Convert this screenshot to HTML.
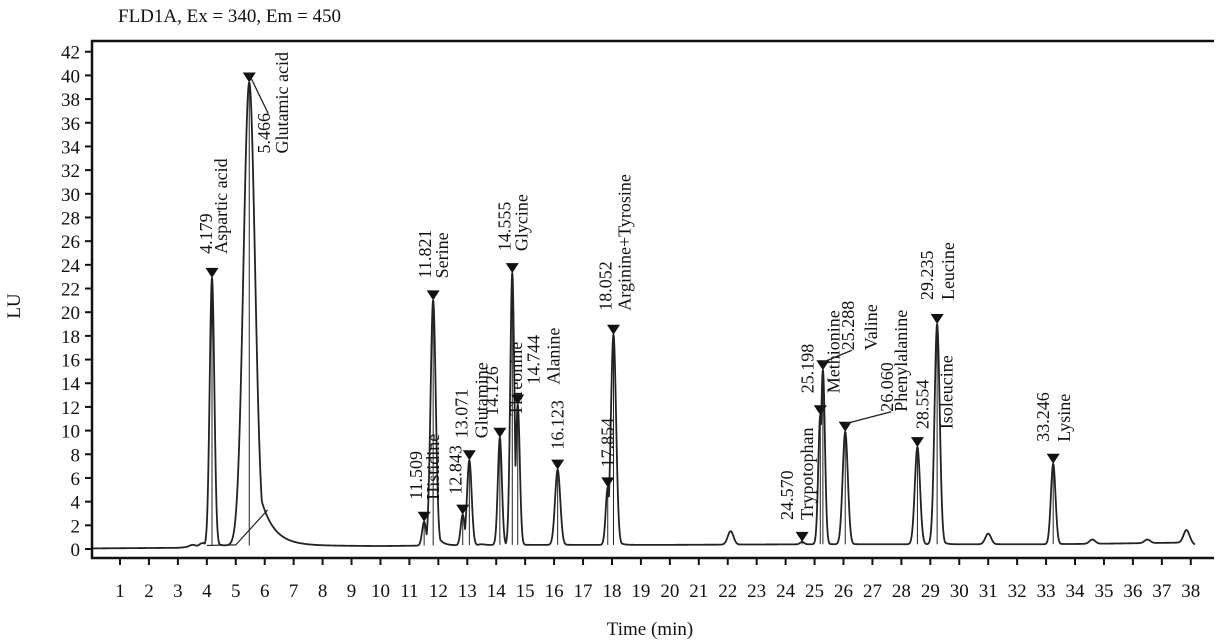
<!DOCTYPE html>
<html><head><meta charset="utf-8">
<style>
html,body{margin:0;padding:0;background:#fff;}
svg{display:block;font-family:"Liberation Serif",serif;}
</style></head>
<body>
<svg id="chart" width="1225" height="644" viewBox="0 0 1225 644" xmlns="http://www.w3.org/2000/svg">
<text x="118" y="22" font-size="19" fill="#111">FLD1A, Ex = 340, Em = 450</text>
<text x="20" y="306" font-size="19" fill="#111" text-anchor="middle" transform="rotate(-90 20 306)">LU</text>
<text x="650" y="635" font-size="19" fill="#111" text-anchor="middle">Time (min)</text>
<g id="axes"></g>
<g id="trace"></g>
<g id="peaks"></g>
</svg>
<script>
// ---- data ----
const peakTimes   = [4.179,5.466,11.509,11.821,12.843,13.071,14.126,14.555,14.744,16.123,17.854,18.052,24.570,25.198,25.288,26.060,28.554,29.235,33.246];
const peakHeights = [22.9,39.4,2.3,21.0,2.9,7.5,9.4,23.3,12.2,6.7,5.2,18.1,0.6,11.3,15.1,9.9,8.6,19.0,7.2];
const peakNames   = ["Aspartic acid","Glutamic acid","Histidine","Serine","","Glutamine","Threonine","Glycine","Alanine","","","Arginine+Tyrosine","Trypotophan","Methionine","Valine","Phenylalanine","Isoleucine","Leucine","Lysine"];
const peakSigma   = [0.08,0.2,0.07,0.09,0.07,0.08,0.07,0.07,0.07,0.09,0.07,0.09,0.07,0.07,0.07,0.09,0.09,0.09,0.08];
const peakTail    = [0.08,0.45,0.05,0.15,0.05,0.08,0.05,0.06,0.06,0.08,0.05,0.1,0.05,0.06,0.06,0.08,0.08,0.1,0.08];
const peakTailAmp = [0.1,0.25,0.1,0.12,0.1,0.1,0.1,0.1,0.1,0.1,0.1,0.12,0.1,0.1,0.1,0.1,0.1,0.12,0.1];
const minorTimes   = [3.5,3.85,13.5,22.1,31.0,34.6,36.5,37.85];
const minorHeights = [0.35,0.5,0.4,1.5,1.3,0.8,0.8,1.6];
const baseTimes  = [0,3.0,4.0,7,10,14,20,25,30,33,35,38,38.2];
const baseValues = [0.05,0.1,0.3,0.3,0.25,0.35,0.35,0.4,0.4,0.4,0.45,0.55,0.3];
const yTicks = [0,2,4,6,8,10,12,14,16,18,20,22,24,26,28,30,32,34,36,38,40,42];
const xTicks = [1,2,3,4,5,6,7,8,9,10,11,12,13,14,15,16,17,18,19,20,21,22,23,24,25,26,27,28,29,30,31,32,33,34,35,36,37,38];
// label layout (styling, pixels)
const labDxT = [-6,15,-8,-8,-7,-8,-8,-8,16,0,0,-8,-15,-13,25,42,5,-10,-10];
const labDxN = [9,33,9,9,0,12,16,9,36,0,0,11,5,13,48,56,29,11,11];
const labDy  = [-14,81,-12,-12,-10,-12,-12,-12,-10,-10,-10,-14,-12,-12,-10,-10,-8,-14,-12];

const NS="http://www.w3.org/2000/svg";
const L=92,T=41,R=1214,B=558;
const xOf=t=>120+(t-1)*28.94;
const yOf=v=>549-v*11.84;
function mk(tag,attrs,parent){const e=document.createElementNS(NS,tag);for(const k in attrs)e.setAttribute(k,attrs[k]);parent.appendChild(e);return e;}
const axes=document.getElementById('axes');
const ax=mk('path',{d:`M${R} ${T}H${L}V${B}H${R}`,fill:'none',stroke:'#111','stroke-width':2.5},axes);


yTicks.forEach(v=>{
  const y=yOf(v);
  const tk=mk('line',{x1:L-7,x2:L,y1:y,y2:y,stroke:'#111','stroke-width':2},axes);
  
  
  const tx=mk('text',{x:L-12,y:y+7,'font-size':19,'text-anchor':'end',fill:'#111'},axes);
  tx.textContent=v;
  
  
});
xTicks.forEach(v=>{
  const x=xOf(v);
  const tk=mk('line',{x1:x,x2:x,y1:B,y2:B+7,stroke:'#111','stroke-width':2},axes);
  
  
  const tx=mk('text',{x:x,y:597,'font-size':19,'text-anchor':'middle',fill:'#111'},axes);
  tx.textContent=v;
  
  
});
function base(t){
  for(let i=0;i<baseTimes.length-1;i++){if(t<=baseTimes[i+1]){const f=(t-baseTimes[i])/(baseTimes[i+1]-baseTimes[i]);return baseValues[i]+f*(baseValues[i+1]-baseValues[i]);}}
  return baseValues[baseValues.length-1];
}
function shape(t,c,h,s,tail,amp){
  const d=t-c;
  const g=Math.exp(-d*d/(2*s*s));
  if(d<=0) return h*g;
  const e=tail>0?amp*Math.exp(-d/tail):0;
  return h*Math.max(g,d>s?e:0);
}
function signal(t){
  let m=0;
  peakTimes.forEach((c,i)=>{m=Math.max(m,shape(t,c,peakHeights[i]-base(c),peakSigma[i],peakTail[i],peakTailAmp[i]));});
  minorTimes.forEach((c,i)=>{m=Math.max(m,shape(t,c,minorHeights[i]-base(c),0.1,0.12,0.15));});
  return base(t)+m;
}
let d='';
for(let t=0.05;t<=38.15;t+=0.005){d+=(d?'L':'M')+xOf(t).toFixed(2)+' '+yOf(signal(t)).toFixed(2);}
const tr=mk('path',{d:d,fill:'none',stroke:'#222','stroke-width':1.8,'stroke-linejoin':'round'},document.getElementById('trace'));


const bl=mk('path',{d:`M${xOf(4.0)} ${yOf(0.3)}L${xOf(5.0)} ${yOf(0.35)}L${xOf(6.1)} ${yOf(3.3)}`,fill:'none',stroke:'#222','stroke-width':1.2},document.getElementById('trace'));


const pg=document.getElementById('peaks');
peakTimes.forEach((t,i)=>{
  const x=xOf(t), y=yOf(peakHeights[i]);
  const g=mk('g',{},pg);
  
  
  const dl=mk('line',{x1:x,x2:x,y1:y,y2:yOf(base(t)),stroke:'#222','stroke-width':1},g);
  
  
  const m=mk('path',{d:`M${x-6.5} ${y-10}H${x+6.5}L${x} ${y}Z`,fill:'#111'},g);
  
  
  const by=y-10+labDy[i];
  if(labDy[i]>0||labDxT[i]>20){
    const ll=mk('line',{x1:x,y1:y-8,x2:x+labDxT[i]+4,y2:by+(labDy[i]>0?-40:0),stroke:'#222','stroke-width':1.3},g);
    
    
  }
  const xt=x+labDxT[i]+6;
  const t1=mk('text',{x:xt,y:by,'font-size':18,fill:'#111',transform:`rotate(-90 ${xt} ${by})`},g);
  t1.textContent=t.toFixed(3);
  
  
  if(peakNames[i]){
    const xn=x+labDxN[i]+6;
    const t2=mk('text',{x:xn,y:by,'font-size':18,fill:'#111',transform:`rotate(-90 ${xn} ${by})`},g);
    t2.textContent=peakNames[i];
    
    
  }
});
</script>
</body></html>
